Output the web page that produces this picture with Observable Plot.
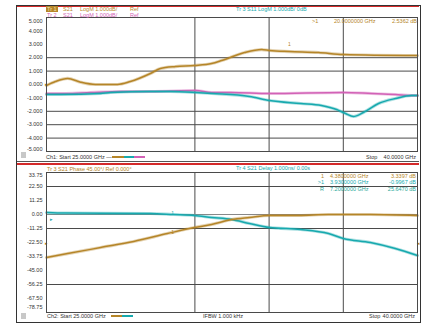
<!DOCTYPE html>
<html><head><meta charset="utf-8">
<script src="https://cdn.jsdelivr.net/npm/d3@7"></script>
<script src="https://cdn.jsdelivr.net/npm/@observablehq/plot@0.6"></script>
<style>
html,body{margin:0;padding:0;background:#fff;}
#root{position:relative;width:422px;height:324px;overflow:hidden;font-family:"Liberation Sans",Arial,sans-serif;}
#root svg{position:absolute;left:0;}
.t{position:absolute;font-size:5.5px;line-height:6px;white-space:nowrap;}
.r{text-align:right;}
.box{position:absolute;}
</style></head>
<body><div id="root"></div>
<script>
// ---------- data ----------
// x is sweep position in percent of span (0..100)
const xGrid = [40, 60, 80];

// top panel (log magnitude, milli-dB units)
const topTicks = [5000, 4000, 3000, 2000, 1000, 0, -1000, -2000, -3000, -4000, -5000];
const topTickLabels = ["5.000", "4.000", "3.000", "2.000", "1.000", "0.000", "-1.000", "-2.000", "-3.000", "-4.000", "-5.000"];
const topGrid = [2000, 1000, -2000, -3000, -4000];

const tr1X = [0, 2.4, 5.7, 9.2, 13.2, 19.1, 22.6, 28, 30.7, 34.8, 39.9, 44.5, 47.2, 53.4, 58, 60.1, 65.5, 73.3, 80, 100];
const tr1Y = [-75, 220, 450, 170, 0, 0, 220, 820, 1190, 1340, 1420, 1570, 1790, 2390, 2610, 2540, 2460, 2390, 2240, 2160];

const tr2X = [0, 5.2, 11.9, 19.9, 28, 40.2, 44.5, 49.6, 60.1, 80, 87.6, 94.1, 98.4, 100];
const tr2Y = [-672, -672, -597, -522, -522, -448, -597, -597, -672, -597, -672, -746, -821, -821];

const tr3X = [0, 3.8, 14.6, 17.3, 28, 33.4, 40.2, 44.5, 54.7, 60.1, 68.5, 74.1, 78.2, 80.6, 82.7, 85.4, 89.5, 94.1, 98.4, 100];
const tr3Y = [-746, -746, -672, -597, -522, -522, -597, -672, -896, -1194, -1418, -1567, -1866, -2164, -2388, -2090, -1418, -1045, -821, -821];

// bottom panel
const botTicks = [3, 2, 1, 0, -1, -2, -3, -4, -5, -6, -7];
const botTickLabels = ["33.75", "22.50", "11.25", "0.00", "-11.25", "-22.50", "-33.75", "-45.00", "-56.25", "-67.50", "-78.75"];
const botGrid = [2, -1, -5];

const phX = [0, 5.7, 14.6, 23.5, 32.6, 39.9, 44.5, 49.9, 54.7, 60.1, 67.9, 76, 87.3, 100];
const phY = [-3.07, -2.79, -2.36, -1.93, -1.36, -0.93, -0.71, -0.36, -0.21, -0.07, -0.07, 0, 0, -0.07];

const dlX = [0, 5, 28, 34.2, 39.9, 44.5, 49.9, 54.7, 60.1, 68.5, 76, 80, 87.3, 94, 100];
const dlY = [0.14, 0.1, 0.07, 0.0, -0.07, -0.21, -0.36, -0.64, -0.93, -1.07, -1.36, -1.71, -2.0, -2.43, -2.93];

const topMarker = {x: 65.5, y: 2460, label: "1"};
const botMarkers = [{x: 34, y: -1.25, label: "1", c: "brown"}, {x: 34, y: 0.05, label: "1", c: "cyan"}];

const BROWN = "#b58528", CYAN = "#17a9ae", PINK = "#d262b6", GRID = "#4a4a4a";

const toRows = (xs, ys) => xs.map((x, i) => ({x, y: ys[i]}));

function traces(rows, color) {
  return [
    Plot.line(rows, {x: "x", y: "y", stroke: color, strokeWidth: 3.2, strokeOpacity: 0.35, curve: "monotone-x"}),
    Plot.line(rows, {x: "x", y: "y", stroke: color, strokeWidth: 1.5, curve: "monotone-x"})
  ];
}
function axisLabels(ticks, labels, topDy, botDy) {
  const rows = ticks.map((v, i) => ({v, label: labels[i]}));
  const n = rows.length;
  const common = {frameAnchor: "left", y: "v", text: "label", dx: -4, textAnchor: "end", fill: "#333", fontSize: 5.5};
  return [
    Plot.text(rows.slice(1, n - 1), common),
    Plot.text(rows.slice(0, 1), {...common, dy: topDy}),
    Plot.text(rows.slice(n - 1), {...common, dy: botDy})
  ];
}

const topPlot = Plot.plot({
  width: 422, height: 162,
  marginTop: 17, marginBottom: 11, marginLeft: 46, marginRight: 5,
  style: {fontFamily: "Liberation Sans, Arial, sans-serif", background: "transparent"},
  x: {domain: [0, 100], axis: null},
  y: {domain: [-5000, 5000], axis: null},
  marks: [
    Plot.ruleX(xGrid, {stroke: GRID, strokeWidth: 1}),
    Plot.ruleY(topGrid, {stroke: GRID, strokeWidth: 1}),
    ...axisLabels(topTicks, topTickLabels, 4, -2),
    ...traces(toRows(tr2X, tr2Y), PINK),
    ...traces(toRows(tr3X, tr3Y), CYAN),
    ...traces(toRows(tr1X, tr1Y), BROWN),
    Plot.text([topMarker], {x: "x", y: "y", text: "label", dy: -7, fill: BROWN, fontSize: 5}),
    Plot.text([0], {frameAnchor: "left", y: d => d, text: () => "▸", dx: -2, fill: BROWN, fontSize: 5}),
    Plot.frame({stroke: GRID, strokeWidth: 1})
  ]
});
topPlot.style.top = "0px";

const botPlot = Plot.plot({
  width: 422, height: 162,
  marginTop: 10, marginBottom: 12, marginLeft: 46, marginRight: 5,
  style: {fontFamily: "Liberation Sans, Arial, sans-serif", background: "transparent"},
  x: {domain: [0, 100], axis: null},
  y: {domain: [-7, 3], axis: null},
  marks: [
    Plot.ruleX(xGrid, {stroke: GRID, strokeWidth: 1}),
    Plot.ruleY(botGrid, {stroke: GRID, strokeWidth: 1}),
    Plot.ruleY([0], {stroke: "#888", strokeWidth: 1}),
    ...axisLabels(botTicks, botTickLabels, 3, -5),
    ...traces(toRows(dlX, dlY), CYAN),
    ...traces(toRows(phX, phY), BROWN),
    Plot.text(botMarkers, {x: "x", y: "y", text: "label", dy: 0, fill: d => d.c === "brown" ? BROWN : CYAN, fontSize: 5}),
    Plot.text([-2.07], {frameAnchor: "left", y: d => d, text: () => "▸", dx: -2, fill: BROWN, fontSize: 5}),
    Plot.text([-2.07], {frameAnchor: "right", y: d => d, text: () => "◂", dx: 2, fill: BROWN, fontSize: 5}),
    Plot.text([-0.36], {frameAnchor: "left", y: d => d, text: () => "▸", dx: 3, fill: CYAN, fontSize: 5}),
    Plot.frame({stroke: GRID, strokeWidth: 1})
  ]
});
botPlot.style.top = "162px";

const root = document.getElementById("root");
root.appendChild(topPlot);
root.appendChild(botPlot);

function box(l, t, w, h, css) {
  const d = document.createElement("div");
  d.className = "box";
  d.style.cssText = `left:${l}px;top:${t}px;width:${w}px;height:${h}px;${css}`;
  root.appendChild(d);
}
function txt(s, l, cy, color, extra = "") {
  const d = document.createElement("div");
  d.className = "t";
  d.textContent = s;
  d.style.cssText += `left:${l}px;top:${cy - 3}px;color:${color};${extra}`;
  root.appendChild(d);
}
function txtR(s, r, cy, color) {
  const d = document.createElement("div");
  d.className = "t r";
  d.textContent = s;
  d.style.cssText += `right:${422 - r}px;top:${cy - 3}px;color:${color};`;
  root.appendChild(d);
}

// frames
box(16, 5, 403, 316, "border:1px solid #333;");
box(17, 6, 402, 1, "background:#d42a2a;");
box(17, 161, 402, 1, "background:#555;");
box(17, 163, 402, 1.5, "background:#d42a2a;");
box(21, 152, 5, 6, "background:#c8c8c8;");
box(21, 313, 5, 6, "background:#c8c8c8;");

// top header
box(46, 6, 12, 6, `background:${BROWN};`);
txt("Tr 1", 47, 9, "#f3e3b5");
txt("S21", 63, 9, BROWN);
txt("LogM 1.000dB/", 80, 9, BROWN);
txt("Ref", 130, 9, BROWN);
txt("Tr 2", 47, 15, PINK);
txt("S21", 63, 15, PINK);
txt("LogM 1.000dB/", 80, 15, PINK);
txt("Ref", 130, 15, PINK);
txt("Tr 3  S11  LogM 1.000dB/ 0dB", 236, 9, CYAN);
// top marker readout
txt(">1", 312, 21, BROWN);
txt("20.0000000 GHz", 334, 21, BROWN);
txtR("2.5362 dB", 417, 21, BROWN);
// top footer
txt("Ch1: Start 25.0000 GHz —", 46, 157, "#333");
box(112, 156, 12, 2, `background:${BROWN};`);
box(124, 156, 10, 2, `background:${CYAN};`);
box(134, 156, 11, 2, `background:${PINK};`);
txt("Stop", 366, 157, "#333");
txtR("40.0000 GHz", 416, 157, "#333");

// bottom header
txt("Tr 3  S21  Phase 45.00°/  Ref 0.000°", 47, 169, BROWN);
txt("Tr 4  S21  Delay 1.000ns/ 0.00s", 236, 168, CYAN);
// bottom marker table
txtR("1", 324, 176, BROWN);
txt("4.3800000 GHz", 330, 176, BROWN);
txtR("3.3397 dB", 416, 176, BROWN);
txtR(">1", 324, 182, CYAN);
txt("3.9300000 GHz", 330, 182, CYAN);
txtR("-0.9967 dB", 416, 182, CYAN);
txtR("R", 324, 189, "#2aa89a");
txt("7.2000000 GHz", 330, 189, "#2aa89a");
txtR("25.6470 dB", 416, 189, "#2aa89a");
// bottom footer
txt("Ch2: Start 25.0000 GHz", 47, 316, "#333");
box(111, 315, 11, 2, `background:${BROWN};`);
box(122, 315, 11, 2, `background:${CYAN};`);
txt("IFBW 1.000 kHz", 203, 316, "#333");
txt("Stop", 369, 316, "#333");
txtR("40.0000 GHz", 415, 316, "#333");
</script>
</body></html>
